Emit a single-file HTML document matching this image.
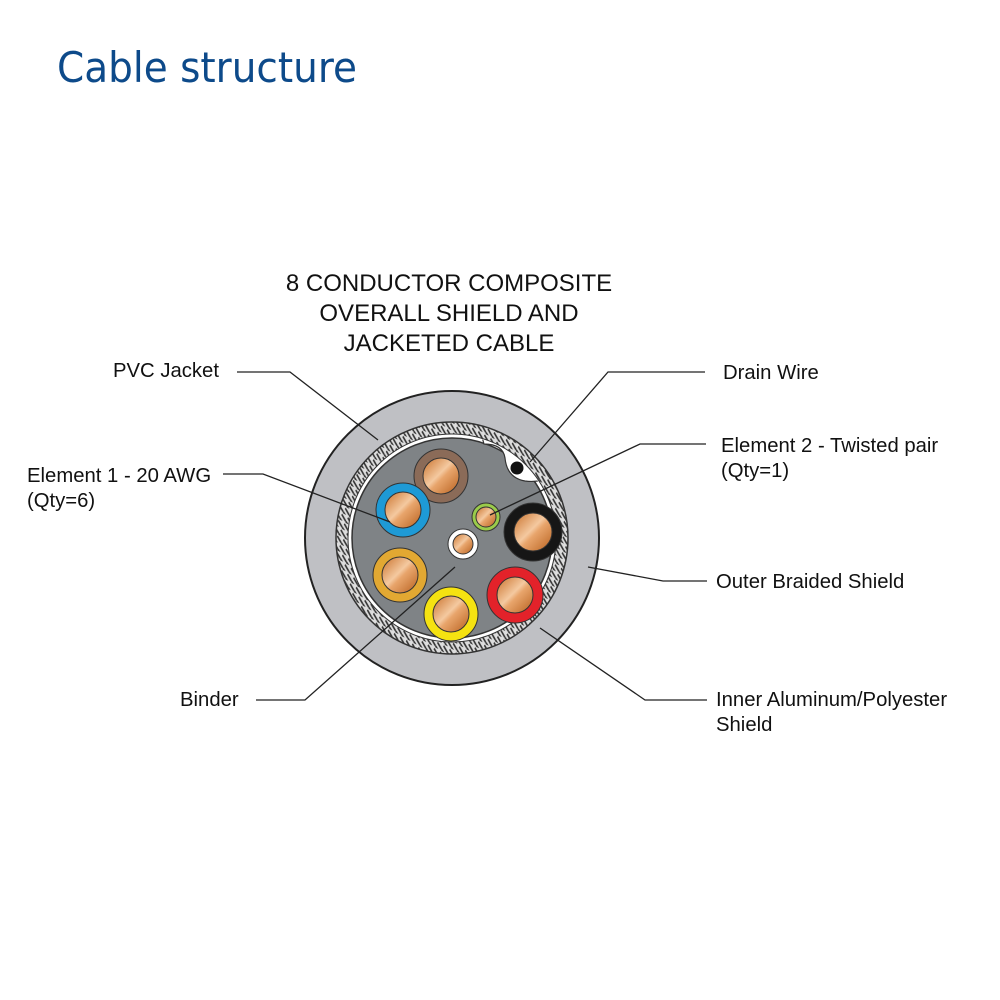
<!DOCTYPE html>
<html><head><meta charset="utf-8"><style>
html,body{margin:0;padding:0;background:#fff;}
svg{display:block;}
text{font-family:"Liberation Sans",Arial,sans-serif;fill:#111;}
</style></head><body>
<svg width="1000" height="1000" viewBox="0 0 1000 1000" xmlns="http://www.w3.org/2000/svg">
<defs>
<linearGradient id="cu" x1="0" y1="0" x2="1" y2="1">
<stop offset="0" stop-color="#c9702a"/><stop offset="0.45" stop-color="#f4c9a0"/><stop offset="0.55" stop-color="#e8a56c"/><stop offset="1" stop-color="#b8611f"/>
</linearGradient>
<pattern id="braid" width="7" height="7" patternUnits="userSpaceOnUse" patternTransform="rotate(30)">
<rect width="7" height="7" fill="#ddd"/><path d="M0 1.5 L7 5.5 M0 5.5 L3.5 7.5" stroke="#333" stroke-width="1.6"/>
</pattern>
<clipPath id="core"><circle cx="452" cy="538" r="103"/></clipPath>
</defs>
<text x="57" y="82" textLength="300" lengthAdjust="spacingAndGlyphs" style="font-family:'DejaVu Sans','Liberation Sans',sans-serif;font-size:42px;fill:#0d4a8a">Cable structure</text>

<text x="449" y="291" font-size="24" text-anchor="middle">8 CONDUCTOR COMPOSITE</text>
<text x="449" y="321" font-size="24" text-anchor="middle">OVERALL SHIELD AND</text>
<text x="449" y="351" font-size="24" text-anchor="middle">JACKETED CABLE</text>

<circle cx="452" cy="538" r="147" fill="#bfc0c4" stroke="#222" stroke-width="2"/>
<circle cx="452" cy="538" r="116" fill="url(#braid)" stroke="#333" stroke-width="1.5"/>
<circle cx="452" cy="538" r="104" fill="#fff" stroke="#333" stroke-width="1"/>
<circle cx="452" cy="538" r="100" fill="#7f8386" stroke="#333" stroke-width="1.5"/>
<g clip-path="url(#core)">
<path d="M480 430 L484 444 Q503 444 505 458 Q507 478 525 481 Q540 483 552 476 L580 470 L560 420 Z" fill="#fff" stroke="#333" stroke-width="1.2"/>
</g>
<circle cx="517" cy="468" r="6.5" fill="#111"/>

<g stroke="#333" stroke-width="1">
<circle cx="441" cy="476" r="27" fill="#8b6b58"/><circle cx="441" cy="476" r="18" fill="url(#cu)"/>
<circle cx="403" cy="510" r="27" fill="#1e9ad6"/><circle cx="403" cy="510" r="18" fill="url(#cu)"/>
<circle cx="400" cy="575" r="27" fill="#e2a832"/><circle cx="400" cy="575" r="18" fill="url(#cu)"/>
<circle cx="451" cy="614" r="27" fill="#f5e211"/><circle cx="451" cy="614" r="18" fill="url(#cu)"/>
<circle cx="515" cy="595" r="28" fill="#e3222a"/><circle cx="515" cy="595" r="18" fill="url(#cu)"/>
<circle cx="533" cy="532" r="29" fill="#161616"/><circle cx="533" cy="532" r="19" fill="url(#cu)"/>
<circle cx="486" cy="517" r="14" fill="#9acb4a"/><circle cx="486" cy="517" r="10" fill="url(#cu)"/>
<circle cx="463" cy="544" r="15" fill="#fff"/><circle cx="463" cy="544" r="10" fill="url(#cu)"/>
</g>

<g fill="none" stroke="#222" stroke-width="1.3">
<path d="M237 372 H290 L378 440"/>
<path d="M223 474 H263 L390 522"/>
<path d="M256 700 H305 L455 567"/>
<path d="M705 372 H608 L530 462"/>
<path d="M706 444 H640 L490 515"/>
<path d="M707 581 H663 L588 567"/>
<path d="M707 700 H645 L540 628"/>
</g>

<g font-size="20.3">
<text x="113" y="377">PVC Jacket</text>
<text x="27" y="482">Element 1 - 20 AWG</text>
<text x="27" y="507">(Qty=6)</text>
<text x="180" y="706">Binder</text>
<text x="723" y="379">Drain Wire</text>
<text x="721" y="452">Element 2 - Twisted pair</text>
<text x="721" y="477">(Qty=1)</text>
<text x="716" y="588">Outer Braided Shield</text>
<text x="716" y="706">Inner Aluminum/Polyester</text>
<text x="716" y="731">Shield</text>
</g>
</svg>
</body></html>
